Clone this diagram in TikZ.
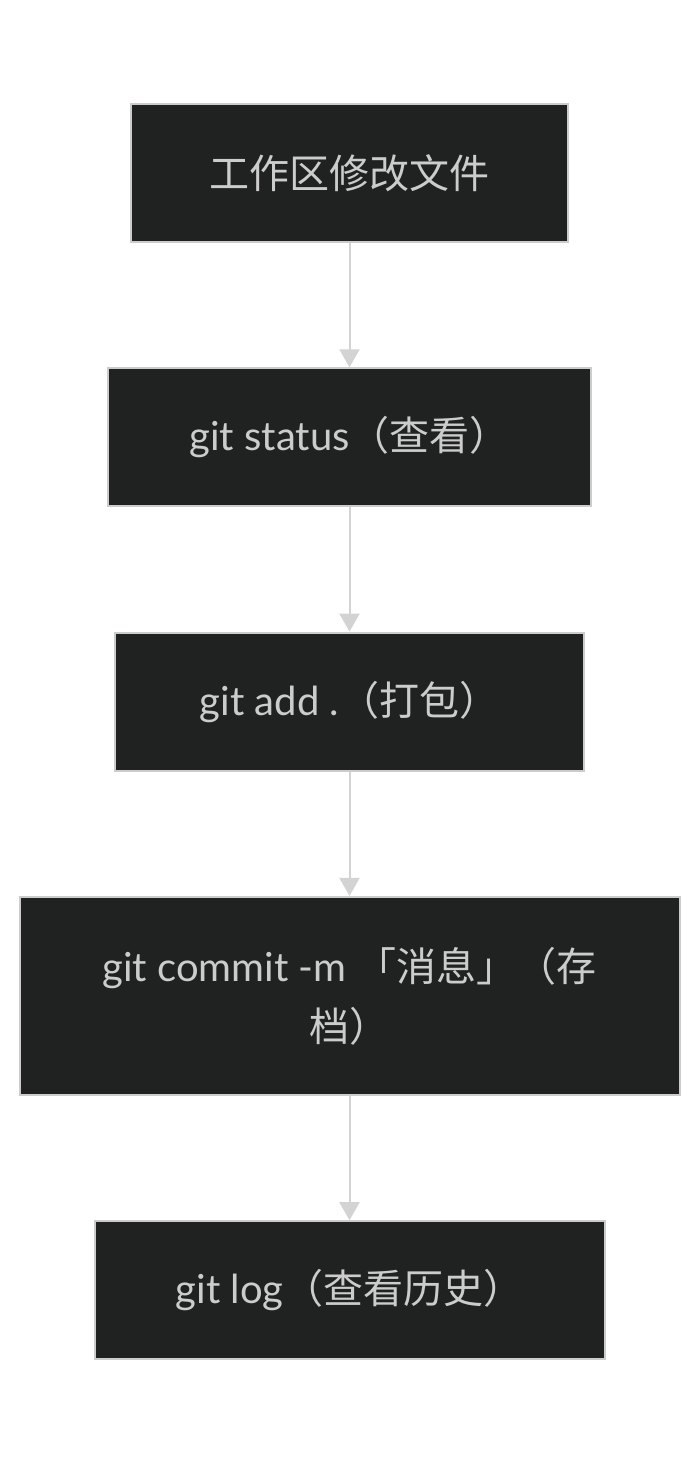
\documentclass[tikz,border=0pt]{standalone}
\usepackage{fontspec}
\setmainfont{Lato}
\newfontfamily\cjk{Noto Sans CJK SC}
\usetikzlibrary{positioning,arrows.meta}
\definecolor{boxfill}{HTML}{202121}
\definecolor{boxline}{HTML}{CCCCCC}
\definecolor{arrowline}{HTML}{D3D3D3}
\tikzset{
  gitbox/.style = {rectangle, draw=boxline, fill=boxfill, line width=2pt,
    text=boxline, align=center, font=\fontsize{40}{60}\selectfont,
    minimum height=138pt, inner sep=0pt},% noeud de commande
  gitarrow/.style = {draw=arrowline, line width=2pt,
    -{Triangle[width=20pt,length=18pt]}}% fleche grise
}

\begin{document}
\begin{tikzpicture}[x=1pt,y=1pt,node distance=124.3pt]
\useasboundingbox (0,0) rectangle (700,-1464);
\node [gitbox, minimum width=437pt] (work) at (349.5,-173) {\cjk 工作区修改文件};
\node [gitbox, minimum width=483pt, below=of work] (status)
  {git status{\cjk （查看）}};
\node [gitbox, minimum width=469pt, below=of status] (add)
  {git add .{\cjk （打包）}};
\node [gitbox, minimum width=660pt, minimum height=198pt, below=of add] (commit)
  {git commit -m {\cjk 「消息」（存}\\{\cjk 档）}};
\node [gitbox, minimum width=510pt, below=of commit] (log)
  {git log{\cjk （查看历史）}};

\draw [gitarrow] (work) -- (status);
\draw [gitarrow] (status) -- (add);
\draw [gitarrow] (add) -- (commit);
\draw [gitarrow] (commit) -- (log);
\end{tikzpicture}
\end{document}
